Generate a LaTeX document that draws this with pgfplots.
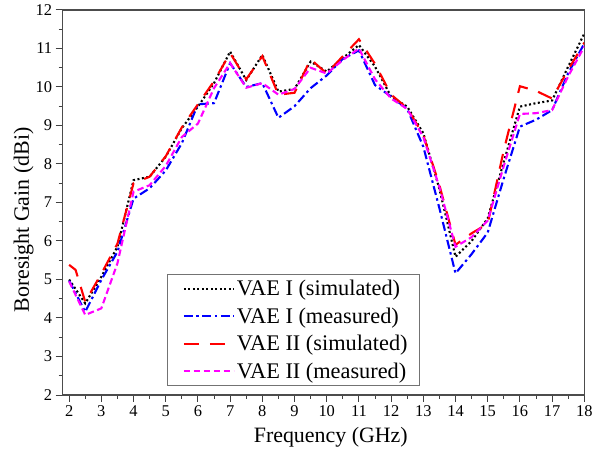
\documentclass[border=0pt]{standalone}
\usepackage{pgfplots}
\pgfplotsset{compat=1.18}
\usepackage{fontspec}
\setmainfont{Liberation Serif}
\definecolor{mblue}{RGB}{0,0,255}
\definecolor{mred}{RGB}{255,0,0}
\definecolor{mmag}{RGB}{255,0,255}
\begin{document}
\begin{tikzpicture}
\begin{axis}[
  at={(62.7bp,57bp)}, anchor=south west,
  scale only axis, width=521.6bp, height=385bp,
  xmin=1.8, xmax=18, ymin=2, ymax=12,
  xtick={2,3,...,18}, ytick={2,3,...,12},
  minor x tick num=1, minor y tick num=1,
  tick pos=left, tick align=outside,
  major tick length=7bp, minor tick length=4bp,
  every tick/.style={black!75, line width=1bp},
  axis line style={black!70, line width=1.2bp},
  /pgf/number format/assume math mode=true,
  ticklabel style={font=\fontsize{16.5}{18}\selectfont},
  xlabel={Frequency (GHz)}, ylabel={Boresight Gain (dBi)},
  label style={font=\fontsize{22}{24}\selectfont},
  xlabel style={at={(axis description cs:0.514,-0.109)}, anchor=center},
  ylabel style={at={(axis description cs:-0.075,0.4545)}, anchor=center},
  legend style={at={(0.199,0.023)}, anchor=south west, draw=black!55, line width=0.8bp,
    font=\fontsize{22.4}{24}\selectfont, row sep=6.5bp, inner xsep=9.5bp, inner ysep=4bp},
  legend cell align=left,
  legend image code/.code={\path[draw=none,fill=none] (0bp,-1bp) rectangle (1bp,1bp); \draw[#1] (7.5bp,0bp) -- (57.5bp,0bp);},
  every axis plot/.append style={line width=2.1bp},
]
\addplot[black, dash pattern=on 2bp off 2.5bp] coordinates {
(2,5.0) (2.5,4.38) (3,5.07) (3.5,5.85) (4,7.58) (4.5,7.67) (5,8.19) (5.5,8.93)
(6,9.49) (6.5,10.1) (7,10.92) (7.5,10.18) (8,10.83) (8.5,9.88) (9,9.95) (9.5,10.66)
(10,10.4) (10.5,10.75) (11,11.09) (11.5,10.53) (12,9.75) (12.5,9.49) (13,8.8) (13.5,7.35)
(14,5.59) (14.5,6.0) (15,6.59) (15.5,8.06) (16,9.49) (16.5,9.58) (17,9.65) (17.5,10.53) (18,11.39)};
\addlegendentry{VAE I (simulated)}
\addplot[mblue, dash pattern=on 9bp off 3.5bp on 2.5bp off 3.5bp] coordinates {
(2,4.97) (2.5,4.16) (3,4.99) (3.5,5.72) (4,7.1) (4.5,7.37) (5,7.83) (5.5,8.54)
(6,9.55) (6.5,9.58) (7,10.62) (7.5,10.0) (8,10.1) (8.5,9.2) (9,9.5) (9.5,9.97)
(10,10.3) (10.5,10.73) (11,10.95) (11.5,10.05) (12,9.75) (12.5,9.43) (13,8.45) (13.5,6.85)
(14,5.16) (14.5,5.66) (15,6.22) (15.5,7.63) (16,8.97) (16.5,9.15) (17,9.4) (17.5,10.36) (18,11.13)};
\addlegendentry{VAE I (measured)}
\addplot[mred, dash pattern=on 15bp off 11bp] coordinates {
(2,5.38) (2.2,5.25) (2.5,4.42) (3,5.15) (3.5,5.93) (4,7.5) (4.5,7.67) (5,8.2) (5.5,8.95)
(6,9.55) (6.5,10.15) (7,10.88) (7.5,10.2) (8,10.8) (8.5,9.8) (9,9.85) (9.5,10.72)
(10,10.35) (10.5,10.8) (11,11.24) (11.5,10.6) (12,9.8) (12.5,9.45) (13,8.75) (13.5,7.45)
(14,5.9) (14.5,6.2) (15,6.45) (15.5,8.36) (16,10.02) (16.5,9.9) (17,9.7) (17.5,10.45) (18,11.15)};
\addlegendentry{VAE II (simulated)}
\addplot[mmag, dash pattern=on 6.5bp off 3.5bp] coordinates {
(2,4.95) (2.5,4.08) (3,4.25) (3.5,5.42) (4,7.28) (4.5,7.45) (5,7.95) (5.5,8.7)
(6,9.05) (6.5,9.97) (7,10.62) (7.5,9.98) (8,10.1) (8.5,9.8) (9,9.95) (9.5,10.5)
(10,10.35) (10.5,10.7) (11,11.0) (11.5,10.2) (12,9.7) (12.5,9.43) (13,8.7) (13.5,7.4)
(14,5.85) (14.5,6.1) (15,6.53) (15.5,7.95) (16,9.3) (16.5,9.32) (17,9.4) (17.5,10.28) (18,11.05)};
\addlegendentry{VAE II (measured)}
\end{axis}
\pgfresetboundingbox
\useasboundingbox (0,0) rectangle (602bp,452bp);
\end{tikzpicture}
\end{document}
